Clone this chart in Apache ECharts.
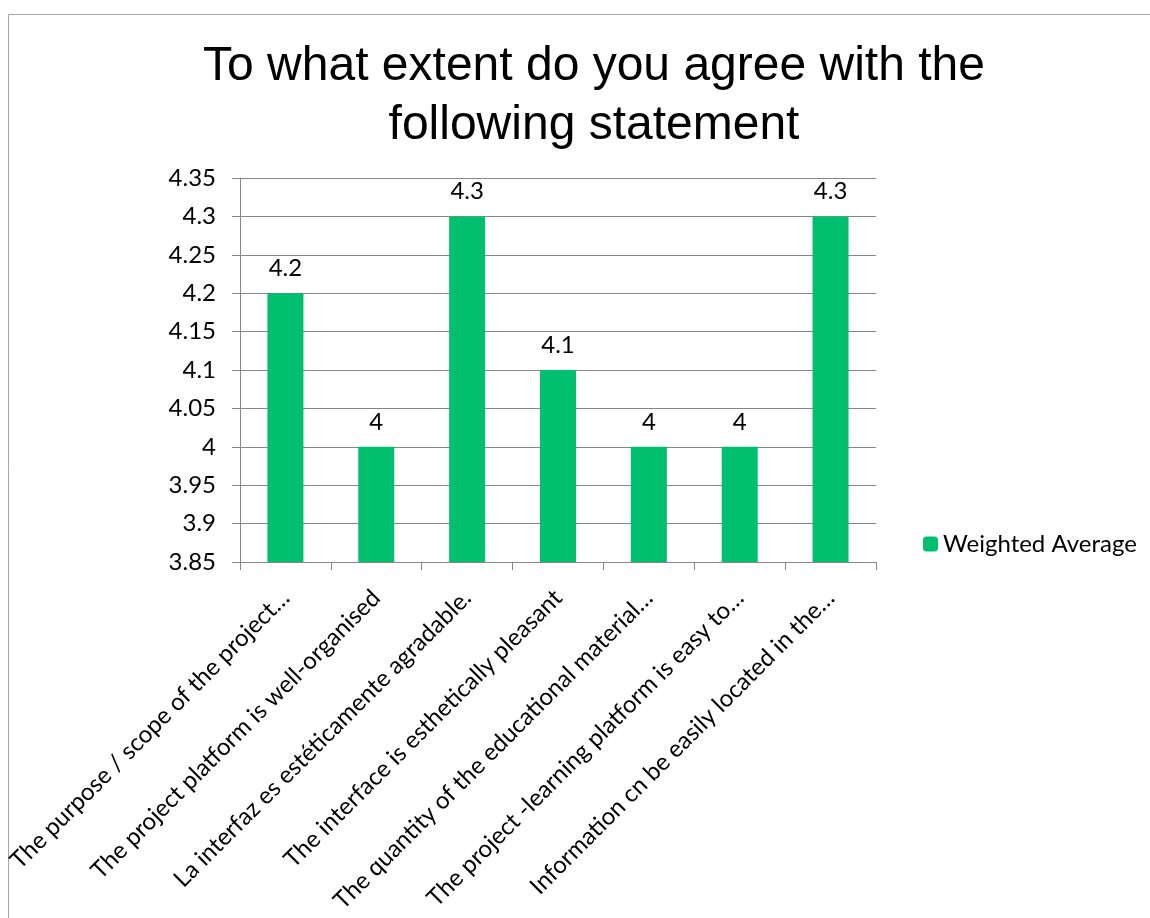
<!DOCTYPE html>
<html>
<head>
    <meta charset="utf-8">
    <title>Weighted Average</title>
    <script src="https://cdn.jsdelivr.net/npm/echarts@6/dist/echarts.min.js"></script>
    <style>
        body { margin: 0; background: #fff; }
        #main { width: 1150px; height: 918px; }
    </style>
</head>
<body>
<div id="main"></div>
<script type="text/javascript">
    var categories = [
        'The purpose / scope of the project…',
        'The project platform is well-organised',
        'La interfaz es estéticamente agradable.',
        'The interface is esthetically pleasant',
        'The quantity of the educational material…',
        'The project -learning platform is easy to…',
        'Information cn be easily located in the…'
    ];
    var weightedAverage = [4.2, 4, 4.3, 4.1, 4, 4, 4.3];
    var yTicks = {min: 3.85, max: 4.35, step: 0.05};

    var chart = echarts.init(document.getElementById('main'));

    var option = {
        backgroundColor: '#fff',
        animation: false,
        textStyle: {fontFamily: 'Lato'},
        // outer chart frame (right edge is cut off in the original)
        graphic: [{
            type: 'rect',
            shape: {x: 8.5, y: 14.5, width: 1160, height: 920},
            style: {fill: 'none', stroke: '#a6a6a6', lineWidth: 1}
        }],
        title: {
            text: 'To what extent do you agree with the\nfollowing statement',
            left: 589,
            textAlign: 'center',
            top: 32,
            textStyle: {
                fontFamily: 'Liberation Sans',
                fontSize: 48,
                fontWeight: 'normal',
                color: '#000',
                lineHeight: 59
            }
        },
        legend: {
            data: ['Weighted Average'],
            left: 918,
            top: 527,
            itemWidth: 15,
            itemHeight: 15,
            itemGap: 8,
            textStyle: {fontSize: 24, color: '#000', fontFamily: 'Lato', padding: [0, 0, 0, 0]}
        },
        grid: {left: 240, right: 274, top: 178, bottom: 356, containLabel: false},
        xAxis: {
            type: 'category',
            data: categories,
            axisLine: {lineStyle: {color: '#868686'}},
            axisTick: {show: true, length: 8, lineStyle: {color: '#868686'}},
            axisLabel: {
                interval: 0,
                rotate: 45,
                margin: 32,
                fontSize: 24,
                color: '#000',
                fontFamily: 'Lato'
            }
        },
        yAxis: {
            type: 'value',
            min: yTicks.min,
            max: yTicks.max,
            interval: yTicks.step,
            axisLine: {show: true, lineStyle: {color: '#868686'}},
            axisTick: {show: true, length: 8, lineStyle: {color: '#868686'}},
            splitLine: {lineStyle: {color: '#868686'}},
            axisLabel: {
                fontSize: 24,
                color: '#000',
                margin: 24,
                fontFamily: 'Lato',
                formatter: function (v) { return String(parseFloat(v.toFixed(2))); }
            }
        },
        series: [{
            name: 'Weighted Average',
            type: 'bar',
            data: weightedAverage,
            barWidth: 36,
            itemStyle: {color: '#00bf6f'},
            label: {
                show: true,
                position: 'top',
                distance: 13,
                fontSize: 24,
                color: '#000',
                fontFamily: 'Lato'
            }
        }]
    };

    chart.setOption(option);
</script>
</body>
</html>
